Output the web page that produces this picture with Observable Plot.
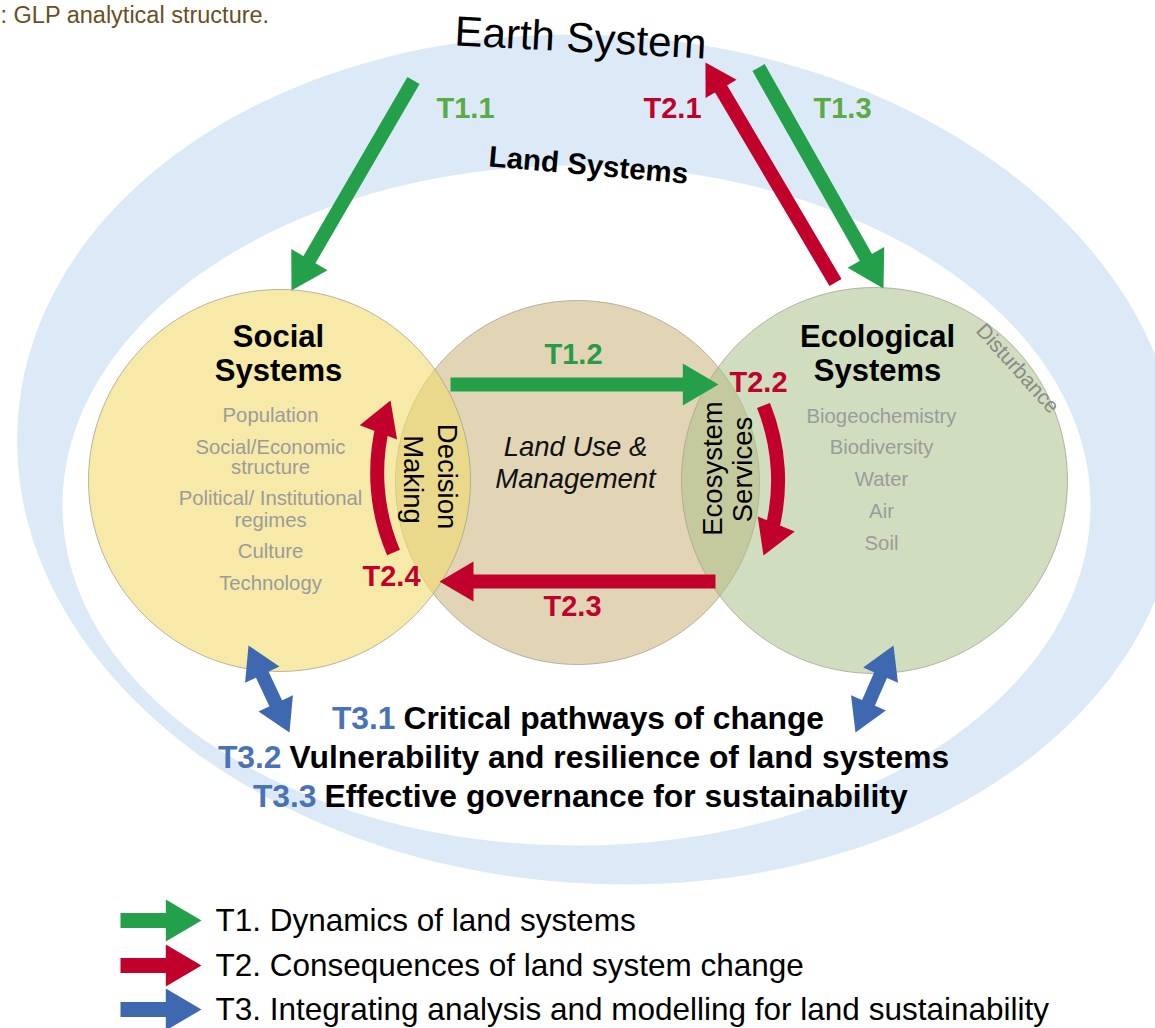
<!DOCTYPE html>
<html>
<head>
<meta charset="utf-8">
<script src="https://cdn.jsdelivr.net/npm/d3@7"></script>
<script src="https://cdn.jsdelivr.net/npm/@observablehq/plot@0.6"></script>
<style>
  html, body { margin: 0; padding: 0; background: #fff; }
  #chart svg { display: block; }
</style>
</head>
<body>
<div id="chart"></div>
<script>
// ---------- content (text values) ----------
const caption = ": GLP analytical structure.";
const socialItems = ["Population", "Social/Economic", "structure", "Political/ Institutional", "regimes", "Culture", "Technology"];
const ecoItems = ["Biogeochemistry", "Biodiversity", "Water", "Air", "Soil"];
const themeCodes = ["T1.1", "T2.1", "T1.3", "T1.2", "T2.2", "T2.3", "T2.4"];
const t3Codes = ["T3.1", "T3.2", "T3.3"];
const t3Texts = ["Critical pathways of change", "Vulnerability and resilience of land systems", "Effective governance for sustainability"];
const legendTexts = ["T1. Dynamics of land systems", "T2. Consequences of land system change", "T3. Integrating analysis and modelling for land sustainability"];

// ---------- palette ----------
const GREEN = "#24a04a", GREEN_LT = "#5aab46", RED = "#c1002b", BLUE = "#3e68b0", BLUE_TXT = "#4a72b6";
const GRAY = "#9b9b9b";

// ---------- diagram layout (diagram coordinate space, 0..1155 x 0..1028) ----------
const bands = [
  {name: "Earth System", cx: 598, cy: 459, rx: 582, ry: 424, rot: 4, fill: "#dceaf8"},
  {name: "Land Systems", cx: 576, cy: 505, rx: 514, ry: 340, rot: 0, fill: "#ffffff"}
];
const systems = [
  {name: "Land Use & Management", cx: 577, cy: 482, r: 182, fill: "#e2d5b6", op: 1},
  {name: "Social Systems", cx: 279, cy: 480, r: 191, fill: "#f2dc6e", op: 0.6},
  {name: "Ecological Systems", cx: 874, cy: 480, r: 193, fill: "#abc18a", op: 0.55}
];
const arrows = [
  {id: "T1.1", x1: 413, y1: 80,  x2: 291, y2: 290, bend: 0,  color: GREEN, head: 21},
  {id: "T2.1", x1: 835, y1: 282, x2: 705, y2: 62,  bend: 0,  color: RED,   head: 18},
  {id: "T1.3", x1: 758, y1: 67,  x2: 883, y2: 288, bend: 0,  color: GREEN, head: 21},
  {id: "T1.2", x1: 450, y1: 384, x2: 718, y2: 384, bend: 0,  color: GREEN, head: 21},
  {id: "T2.3", x1: 715, y1: 581, x2: 439, y2: 581, bend: 0,  color: RED,   head: 20},
  {id: "T2.4", x1: 393, y1: 552, x2: 390, y2: 400, bend: 22, color: RED,   head: 20},
  {id: "T2.2", x1: 763, y1: 405, x2: 763, y2: 555, bend: 22, color: RED,   head: 20}
];
const doubleArrows = [
  {x1: 248, y1: 645, x2: 289, y2: 732},
  {x1: 893, y1: 645, x2: 855, y2: 732}
];
const themeLabelPos = [
  {x: 465, y: 108, fill: GREEN_LT}, {x: 672, y: 108, fill: RED}, {x: 842, y: 108, fill: GREEN_LT},
  {x: 573, y: 354, fill: "#2a9a48"}, {x: 758, y: 382, fill: RED}, {x: 572, y: 606, fill: RED}, {x: 391, y: 576, fill: RED}
];
const socialItemY = [415, 447, 467, 498, 520, 551, 583];
const ecoItemY = [416, 447, 479, 511, 543];
const t3Y = [718, 757, 796];
const t3Split = [395, 281, 316];
const legendY = [920, 965, 1009];

// ---------- helpers ----------
const K = 0.5522848;
function ellipseSymbol(rx, ry) {
  return {draw(ctx) {
    ctx.moveTo(rx, 0);
    ctx.bezierCurveTo(rx, ry * K, rx * K, ry, 0, ry);
    ctx.bezierCurveTo(-rx * K, ry, -rx, ry * K, -rx, 0);
    ctx.bezierCurveTo(-rx, -ry * K, -rx * K, -ry, 0, -ry);
    ctx.bezierCurveTo(rx * K, -ry, rx, -ry * K, rx, 0);
    ctx.closePath();
  }};
}
function headSymbol(half) {
  const len = 1.7 * half;
  return {draw(ctx) { ctx.moveTo(0, 0); ctx.lineTo(-len, -half); ctx.lineTo(-len, half); ctx.closePath(); }};
}
const deg = (dx, dy) => Math.atan2(dy, dx) * 180 / Math.PI;
const FONT = "'Liberation Sans', Arial, Helvetica, sans-serif";

// ---------- marks ----------
const marks = [];
bands.forEach(b => marks.push(Plot.dot([b], {x: "cx", y: "cy", r: 1, symbol: ellipseSymbol(b.rx, b.ry), rotate: b.rot, fill: b.fill, stroke: "none"})));
systems.forEach(s => marks.push(Plot.dot([s], {x: "cx", y: "cy", r: 1, symbol: ellipseSymbol(s.r, s.r), fill: s.fill, fillOpacity: s.op, stroke: "#a8a290", strokeWidth: 0.8})));

// region titles
marks.push(Plot.text([{t: "Earth System", x: 580, y: 38}], {x: "x", y: "y", text: "t", fontSize: 42, rotate: 3, fill: "#000", fontFamily: FONT}));
marks.push(Plot.text([{t: "Land Systems", x: 588, y: 165}], {x: "x", y: "y", text: "t", fontSize: 29.5, fontWeight: "bold", rotate: 5, fill: "#000", fontFamily: FONT}));
marks.push(Plot.text([{t: "Social", x: 278, y: 337}, {t: "Systems", x: 278, y: 371}, {t: "Ecological", x: 877, y: 337}, {t: "Systems", x: 877, y: 371}],
  {x: "x", y: "y", text: "t", fontSize: 31, fontWeight: "bold", fill: "#000", fontFamily: FONT}));
marks.push(Plot.text(socialItems.map((t, i) => ({t, y: socialItemY[i]})), {x: 270, y: "y", text: "t", fontSize: 20.3, fill: GRAY, fontFamily: FONT}));
marks.push(Plot.text(ecoItems.map((t, i) => ({t, y: ecoItemY[i]})), {x: 881, y: "y", text: "t", fontSize: 20.3, fill: GRAY, fontFamily: FONT}));
marks.push(Plot.text([{t: "Land Use &", y: 447}, {t: "Management", y: 479}], {x: 575, y: "y", text: "t", fontSize: 27.5, fontStyle: "italic", fill: "#111", fontFamily: FONT}));
marks.push(Plot.text([{t: "Decision", x: 446, y: 476}, {t: "Making", x: 412, y: 479}], {x: "x", y: "y", text: "t", rotate: 90, fontSize: 27.5, fill: "#000", fontFamily: FONT}));
marks.push(Plot.text([{t: "Ecosystem", x: 713, y: 468}, {t: "Services", x: 743, y: 469}], {x: "x", y: "y", text: "t", rotate: -90, fontSize: 27.5, fill: "#000", fontFamily: FONT}));
marks.push(Plot.text([{t: "Disturbance", x: 1017, y: 368}], {x: "x", y: "y", text: "t", rotate: 48, fontSize: 21, fill: "#8a8a8a", fontFamily: FONT}));

// arrows (shaft + filled head)
arrows.forEach(a => {
  marks.push(Plot.arrow([a], {x1: "x1", y1: "y1", x2: "x2", y2: "y2", bend: a.bend, headLength: 0, insetEnd: a.head * 1.2,
    stroke: a.color, strokeWidth: 14, strokeLinecap: "butt", strokeLinejoin: "miter"}));
  marks.push(Plot.dot([a], {x: "x2", y: "y2", r: 1, symbol: headSymbol(a.head), rotate: deg(a.x2 - a.x1, a.y2 - a.y1) + a.bend, fill: a.color, stroke: "none"}));
});
doubleArrows.forEach(a => {
  marks.push(Plot.arrow([a], {x1: "x1", y1: "y1", x2: "x2", y2: "y2", headLength: 0, insetStart: 24, insetEnd: 24,
    stroke: BLUE, strokeWidth: 14, strokeLinecap: "butt"}));
  marks.push(Plot.dot([a], {x: "x2", y: "y2", r: 1, symbol: headSymbol(19), rotate: deg(a.x2 - a.x1, a.y2 - a.y1), fill: BLUE, stroke: "none"}));
  marks.push(Plot.dot([a], {x: "x1", y: "y1", r: 1, symbol: headSymbol(19), rotate: deg(a.x1 - a.x2, a.y1 - a.y2), fill: BLUE, stroke: "none"}));
});

// theme labels
marks.push(Plot.text(themeCodes.map((t, i) => ({t, ...themeLabelPos[i]})), {x: "x", y: "y", text: "t", fill: "fill", fontSize: 29, fontWeight: "bold", fontFamily: FONT}));

// T3 lines
marks.push(Plot.text(t3Codes.map((t, i) => ({t, x: t3Split[i], y: t3Y[i]})), {x: "x", y: "y", text: "t", textAnchor: "end", fill: BLUE_TXT, fontSize: 31.8, fontWeight: "bold", fontFamily: FONT}));
marks.push(Plot.text(t3Texts.map((t, i) => ({t, x: t3Split[i] + 8, y: t3Y[i]})), {x: "x", y: "y", text: "t", textAnchor: "start", fill: "#000", fontSize: 31.8, fontWeight: "bold", fontFamily: FONT}));

// legend
const legendColors = [GREEN, RED, BLUE];
const legend = legendTexts.map((t, i) => ({t, y: legendY[i], x1: 120, x2: 201, color: legendColors[i]}));
legend.forEach(l => {
  marks.push(Plot.arrow([l], {x1: "x1", y1: "y", x2: "x2", y2: "y", headLength: 0, insetEnd: 26, stroke: l.color, strokeWidth: 15, strokeLinecap: "butt"}));
  marks.push(Plot.dot([l], {x: "x2", y: "y", r: 1, symbol: headSymbol(21), rotate: 0, fill: l.color, stroke: "none"}));
});
marks.push(Plot.text(legend, {x: 215, y: "y", text: "t", textAnchor: "start", fontSize: 31.5, fill: "#000", fontFamily: FONT}));

// caption
marks.push(Plot.text([{t: caption}], {x: 0, y: 15, text: "t", textAnchor: "start", fontSize: 23.5, fill: "#6b4f1e", fontFamily: FONT}));

const chart = Plot.plot({
  width: 1155, height: 1028, margin: 0,
  x: {domain: [0, 1155], range: [0, 1155], axis: null},
  y: {domain: [0, 1028], range: [0, 1028], axis: null},
  style: {background: "#fff", fontFamily: FONT, overflow: "hidden"},
  marks
});
document.getElementById("chart").appendChild(chart);
</script>
</body>
</html>
